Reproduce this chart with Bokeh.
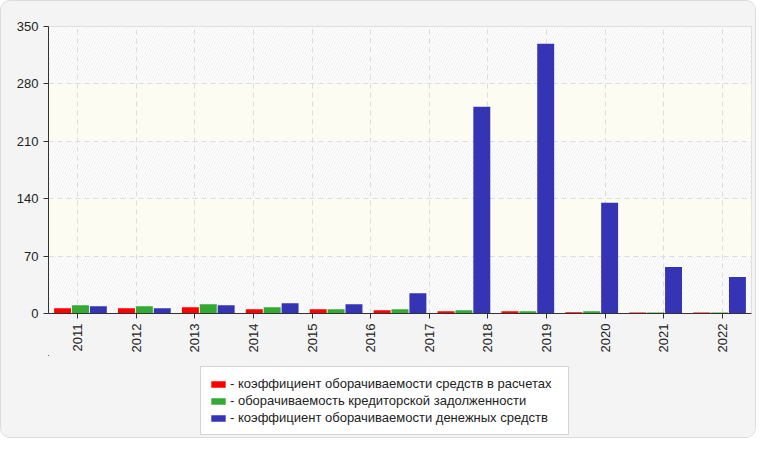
import math
from bokeh.plotting import figure
from bokeh.layouts import column
from bokeh.models import (ColumnDataSource, Range1d, FixedTicker, Legend, LegendItem,
                          BoxAnnotation, Grid)
from bokeh.transform import dodge
from bokeh.embed import file_html
from bokeh.resources import INLINE

# ---- data -----------------------------------------------------------------
years = ["2011", "2012", "2013", "2014", "2015", "2016",
         "2017", "2018", "2019", "2020", "2021", "2022"]
receivables_turnover = [6.5, 6.5, 7.7, 5.3, 5.3, 4.0, 2.8, 2.8, 1.6, 1.3, 1.3]
payables_turnover = [10.1, 8.9, 11.4, 7.7, 5.3, 5.3, 4.0, 2.8, 2.8, 1.3, 1.3]
cash_turnover = [8.9, 6.5, 10.1, 12.6, 11.4, 24.8, 252.0, 329.0, 135.0, 56.6, 44.4]
y_ticks = [0, 70, 140, 210, 280, 350]
series_labels = [
    "- коэффициент оборачиваемости средств в расчетах",
    "- оборачиваемость кредиторской задолженности",
    "- коэффициент оборачиваемости денежных средств",
]
colors = ["#ff0000", "#33aa33", "#3434b4"]

FONT = "Liberation Sans"
BG = "#f4f4f4"

n_groups = len(cash_turnover)
src = ColumnDataSource(dict(
    x=[i + 0.5 for i in range(n_groups)],
    r=receivables_turnover,
    g=payables_turnover,
    b=cash_turnover,
))

# ---- main chart -------------------------------------------------------------
p = figure(frame_width=703, frame_height=287, output_backend="svg", toolbar_location=None,
           x_range=Range1d(0, n_groups), y_range=Range1d(0, 350),
           min_border_left=47, min_border_right=4, min_border_top=25,
           min_border_bottom=40)
p.border_fill_color = BG
p.background_fill_color = "#ffffff"
p.outline_line_color = "#dddddd"

p.xgrid.visible = False
p.ygrid.visible = False

hatch = BoxAnnotation(fill_alpha=0, line_alpha=0, hatch_pattern="/", hatch_color="#efefef",
                      hatch_scale=5, hatch_weight=1, level="underlay")
p.add_layout(hatch)

xt = [(j + 0.5) * n_groups / len(years) for j in range(len(years))]
p.xaxis.ticker = FixedTicker(ticks=xt)
p.xaxis.major_label_overrides = {t: y for t, y in zip(xt, years)}
p.xaxis.major_label_orientation = math.pi / 2
p.yaxis.ticker = FixedTicker(ticks=y_ticks)

for ax in (p.xaxis[0], p.yaxis[0]):
    ax.axis_line_color = "#333333"
    ax.major_tick_line_color = "#333333"
    ax.minor_tick_line_color = None
    ax.major_tick_in = 0
    ax.major_tick_out = 5
    ax.major_label_text_font = FONT
    ax.major_label_text_font_size = "13px"
    ax.major_label_text_color = "#222222"
    ax.major_label_standoff = 5

band_grid = Grid(dimension=1, ticker=p.yaxis[0].ticker, grid_line_color=None,
                 band_fill_color="#fcfcf3", band_fill_alpha=1.0, level="underlay")
p.add_layout(band_grid)
xg = Grid(dimension=0, ticker=p.xaxis[0].ticker, grid_line_color="#dddddd",
          grid_line_dash="5 4", grid_line_width=1, level="underlay")
yg = Grid(dimension=1, ticker=p.yaxis[0].ticker, grid_line_color="#dddddd",
          grid_line_dash="5 4", grid_line_width=1, level="underlay")
p.add_layout(xg)
p.add_layout(yg)

offsets = [-0.28, 0.0, 0.28]
cols = ["r", "g", "b"]
for c, off, col in zip(cols, offsets, colors):
    p.vbar(x=dodge("x", off, range=p.x_range), top=c, width=0.265, bottom=0,
           source=src, fill_color=col, line_color=col, line_width=0)

# ---- legend strip (same series, bars kept out of its view) -----------------
pl = figure(width=754, height=82, output_backend="svg", toolbar_location=None,
            x_range=Range1d(1000, 1001), y_range=Range1d(-1000, -999),
            x_axis_type=None, y_axis_type=None,
            min_border_left=0, min_border_right=0, min_border_top=0, min_border_bottom=0)
pl.border_fill_color = BG
pl.background_fill_color = BG
pl.outline_line_color = None
pl.xgrid.visible = False
pl.ygrid.visible = False

items = []
for c, off, col, lab in zip(cols, offsets, colors, series_labels):
    r = pl.vbar(x=dodge("x", off, range=pl.x_range), top=c, width=0.265, bottom=0,
                source=src, fill_color=col, line_color=None)
    items.append(LegendItem(label=lab, renderers=[r]))

cover = BoxAnnotation(fill_color=BG, fill_alpha=1.0, line_alpha=0, level="annotation")
pl.add_layout(cover)

legend = Legend(items=items, location=(152, 2), orientation="vertical",
                label_text_font=FONT, label_text_font_size="13px",
                label_text_color="#222222", label_height=17, label_width=330,
                label_standoff=3, glyph_width=18, glyph_height=8, spacing=0,
                padding=8, margin=0,
                background_fill_color="#ffffff", background_fill_alpha=1.0,
                border_line_color="#aaaaaa", border_line_width=1)
pl.add_layout(legend, "center")

layout = column(p, pl, spacing=0)
layout.styles = {"border": "1px solid #dcdcdc", "border-radius": "10px",
                 "overflow": "hidden", "background-color": BG}

open("out.html", "w").write(file_html(layout, INLINE))
